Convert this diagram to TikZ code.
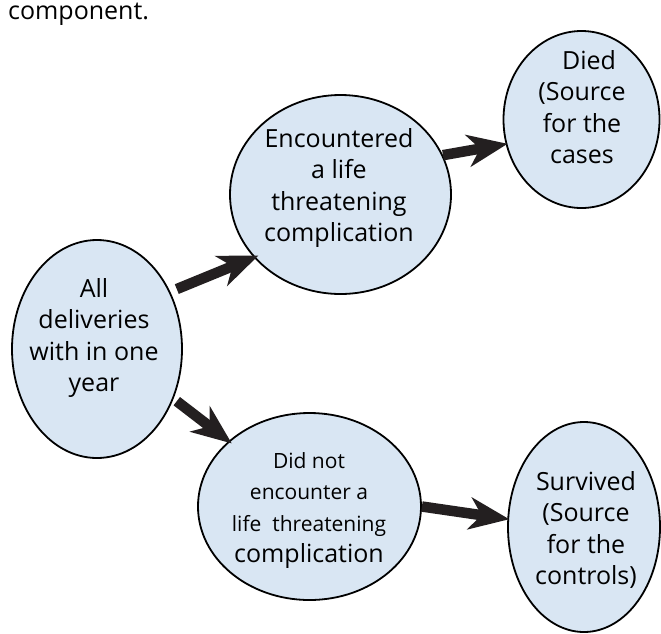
\documentclass[tikz,border=0pt]{standalone}
\usepackage{fontspec}
\setmainfont{Open Sans}
\usetikzlibrary{arrows.meta,shapes.geometric}
\definecolor{nodefill}{RGB}{217,230,243}
\definecolor{arrowcol}{RGB}{35,31,32}
\newcommand{\stacklines}[1]{\begin{tabular}[t]{@{}c@{}}#1\end{tabular}}
\newcommand{\smalltxt}{\fontsize{21}{31.5}\selectfont}
\begin{document}
\begin{tikzpicture}[x=1pt,y=-1pt,
  blob/.style={ellipse, draw=black, line width=1.8pt, fill=nodefill, inner sep=0pt},
  txt/.style={anchor=base, inner sep=0pt, font=\fontsize{25}{31.5}\selectfont},
  bigarrow/.style={draw=arrowcol, line width=10.5pt,
    -{Stealth[length=40pt,width=32pt,inset=12pt]}}]
\useasboundingbox (0,0) rectangle (661,633);

\node[txt, anchor=base west] (caption) at (8,19) {component.};

\node[blob, minimum width=170pt, minimum height=218pt] (all) at (97,349) {};
\node[blob, minimum width=221pt, minimum height=199pt] (enc) at (340.5,194.5) {};
\node[blob, minimum width=156pt, minimum height=177pt] (died) at (581.5,119.5) {};
\node[blob, minimum width=223pt, minimum height=187pt] (not) at (309.5,506.5) {};
\node[blob, minimum width=152pt, minimum height=210pt] (surv) at (584,527) {};

\node[txt] (allT) at (94,297) {\stacklines{All\\deliveries\\with in one\\year}};
\node[txt] (encT) at (339,147) {\stacklines{Encountered\\a life\\threatening\\complication}};
\node[txt] (diedT) at (582,69) {\stacklines{\hspace*{14pt}Died\\(Source\\for the\\cases}};
\node[txt] (notT) at (309,468) {\stacklines{\smalltxt Did not\\\smalltxt encounter a\\\smalltxt life~ threatening\\complication}};
\node[txt] (survT) at (586,490) {\stacklines{Survived\\(Source\\for the\\controls)}};

\draw[bigarrow, shorten <=7pt, shorten >=-5pt] (all.38.5) -- (enc.216.1);
\draw[bigarrow, shorten <=4pt, shorten >=-4pt] (all.-33.4) -- (not.141.9);
\draw[bigarrow, shorten >=-2pt] (enc.21.7) -- (died.198);
\draw[bigarrow, shorten >=-2pt] (not.0) -- (surv.174.6);
\end{tikzpicture}
\end{document}
